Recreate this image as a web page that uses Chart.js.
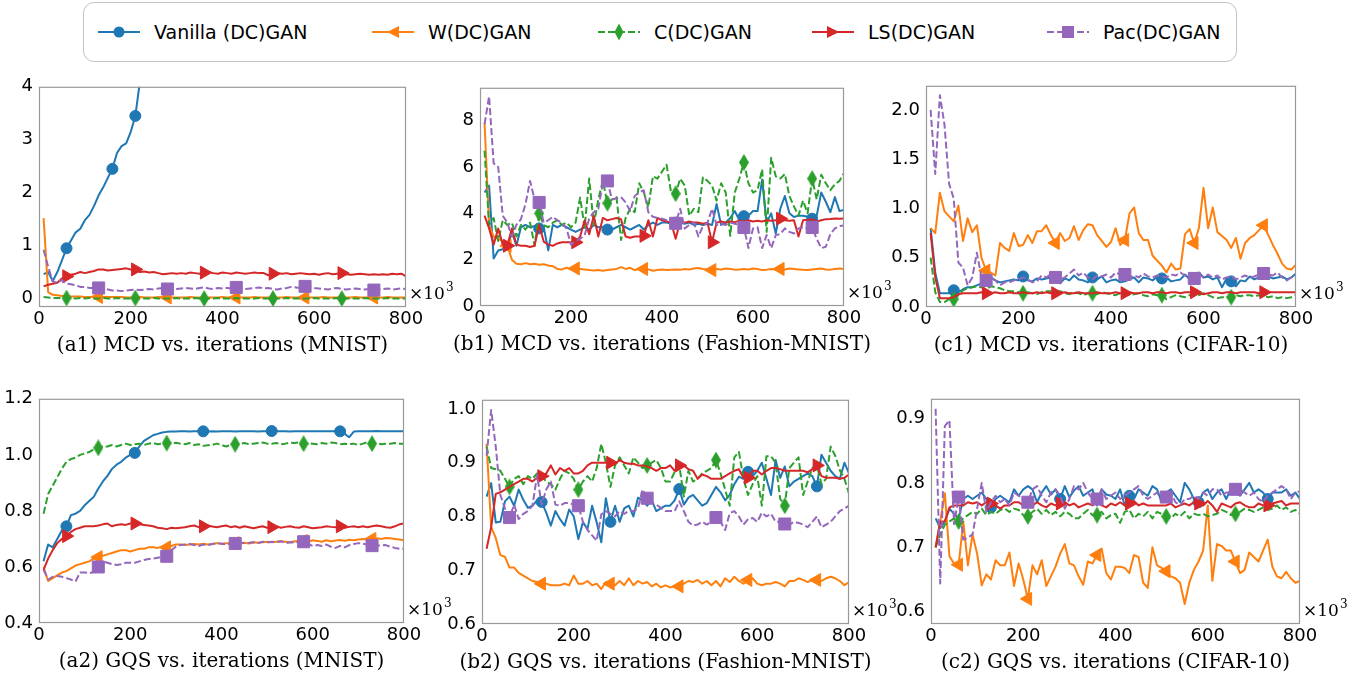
<!DOCTYPE html>
<html>
<head>
<meta charset="utf-8">
<title>GAN metrics vs. iterations</title>
<script src="https://cdn.jsdelivr.net/npm/chart.js@4.4.1/dist/chart.umd.min.js"></script>
<style>
    body { margin: 0; background: #fff; width: 1361px; height: 674px; position: relative; overflow: hidden; font-family: "DejaVu Sans", sans-serif; }
    #legend { position: absolute; left: 83px; top: 2px; width: 1152px; height: 58px; border: 1px solid #c4c4c4; border-radius: 11px; }
    .item { position: absolute; top: 0; height: 58px; display: flex; align-items: center; font-size: 19px; color: #000; white-space: nowrap; }
    .item svg { margin-right: 14px; }
    canvas { position: absolute; }
</style>
</head>
<body>
<div id="legend"></div>
<script>
// --- data ---
const seriesNames = ["Vanilla (DC)GAN", "W(DC)GAN", "C(DC)GAN", "LS(DC)GAN", "Pac(DC)GAN"];
const titles = [
    "(a1) MCD vs. iterations (MNIST)",
    "(b1) MCD vs. iterations (Fashion-MNIST)",
    "(c1) MCD vs. iterations (CIFAR-10)",
    "(a2) GQS vs. iterations (MNIST)",
    "(b2) GQS vs. iterations (Fashion-MNIST)",
    "(c2) GQS vs. iterations (CIFAR-10)"
];

// iterations, in thousands
const iters = [10,20,30,40,50,60,70,80,90,100,110,120,130,140,150,160,170,180,190,200,
    210,220,230,240,250,260,270,280,290,300,310,320,330,340,350,360,370,380,390,400,
    410,420,430,440,450,460,470,480,490,500,510,520,530,540,550,560,570,580,590,600,
    610,620,630,640,650,660,670,680,690,700,710,720,730,740,750,760,770,780,790,800];
const xTicks = [0, 200, 400, 600, 800];

// (a1) MCD, MNIST
const a1Vanilla = [0.46,0.5,0.33,0.5,0.72,0.95,1.1,1.25,1.32,1.48, 1.58,1.75,1.95,2.1,2.28,2.45,2.75,2.88,2.93,3.15,
    3.45,4.1,4.8,5.3,5.9,6.4,6.8,7.3,7.7,8.2, 8.6,9.0,9.5,9.9,10.3,10.6,11.0,11.4,11.7,12.1,
    12.4,12.8,13.1,13.4,13.8,14.1,14.3,14.6,14.9,15.2, 15.4,15.7,15.9,16.2,16.4,16.6,16.9,17.1,17.3,17.5,
    17.7,17.9,18.1,18.2,18.4,18.6,18.7,18.9,19.0,19.2, 19.3,19.4,19.6,19.7,19.8,19.9,20.0,20.1,20.2,20.3];
const a1W = [1.52,0.12,0.07,0.06,0.05,0.05,0.04,0.04,0.04,0.03, 0.03,0.03,0.03,0.03,0.03,0.03,0.03,0.03,0.02,0.02,
    0.02,0.03,0.02,0.02,0.02,0.03,0.02,0.02,0.02,0.02, 0.02,0.02,0.03,0.02,0.02,0.02,0.02,0.02,0.02,0.03,
    0.02,0.02,0.02,0.02,0.02,0.02,0.03,0.02,0.02,0.02, 0.02,0.02,0.02,0.03,0.02,0.02,0.02,0.02,0.02,0.02,
    0.02,0.03,0.02,0.02,0.02,0.02,0.02,0.02,0.03,0.02, 0.02,0.02,0.02,0.02,0.02,0.03,0.02,0.02,0.02,0.02];
const a1C = [0.03,0.02,0.01,0.01,0.01,0.01,0.01,0.0,0.01,0.0, 0.01,0.0,0.0,0.01,0.0,0.0,0.01,0.0,0.0,0.0,
    0.01,0.0,0.0,0.0,0.01,0.0,0.0,0.0,0.0,0.01, 0.0,0.0,0.0,0.01,0.0,0.0,0.0,0.0,0.01,0.0,
    0.0,0.0,0.01,0.0,0.0,0.0,0.0,0.01,0.0,0.0, 0.0,0.0,0.0,0.01,0.0,0.0,0.0,0.0,0.0,0.01,
    0.0,0.0,0.0,0.0,0.01,0.0,0.0,0.0,0.0,0.0, 0.01,0.0,0.0,0.0,0.0,0.01,0.0,0.0,0.0,0.0];
const a1LS = [0.23,0.26,0.28,0.3,0.38,0.42,0.45,0.47,0.5,0.48, 0.5,0.52,0.55,0.55,0.53,0.54,0.55,0.56,0.57,0.55,
    0.55,0.5,0.51,0.49,0.5,0.48,0.46,0.47,0.48,0.47, 0.48,0.47,0.49,0.48,0.47,0.49,0.5,0.48,0.47,0.49,
    0.48,0.47,0.49,0.48,0.47,0.48,0.49,0.48,0.48,0.44, 0.47,0.48,0.47,0.48,0.46,0.47,0.48,0.47,0.46,0.47,
    0.45,0.47,0.48,0.46,0.47,0.48,0.46,0.45,0.46,0.47, 0.46,0.45,0.46,0.45,0.46,0.45,0.47,0.46,0.47,0.42];
const a1Pac = [0.92,0.6,0.32,0.3,0.35,0.28,0.27,0.25,0.22,0.22, 0.2,0.2,0.2,0.19,0.17,0.15,0.15,0.14,0.15,0.16,
    0.17,0.16,0.17,0.18,0.17,0.19,0.2,0.18,0.17,0.18, 0.19,0.2,0.19,0.18,0.2,0.21,0.19,0.18,0.2,0.19,
    0.2,0.19,0.21,0.2,0.18,0.19,0.2,0.21,0.19,0.2, 0.18,0.17,0.19,0.2,0.22,0.21,0.2,0.23,0.22,0.2,
    0.19,0.18,0.17,0.19,0.2,0.18,0.17,0.18,0.19,0.18, 0.17,0.18,0.16,0.17,0.18,0.19,0.17,0.18,0.19,0.18];
const a1Marks = [[60,160,210],[130,280,430,580,730],[60,210,360,510,660],[60,210,360,510,660],[130,280,430,580,730]];
const a1Ticks = [0, 1, 2, 3, 4];

// (b1) MCD, Fashion-MNIST
const b1Vanilla = [4.9,5.2,2.05,2.4,2.45,2.5,3.2,2.6,3.4,3.5, 3.4,3.45,3.35,3.4,2.4,3.5,3.4,3.5,3.4,3.3,
    3.2,3.3,3.4,3.3,3.5,3.4,3.4,3.3,3.3,3.4, 3.5,3.4,3.3,3.4,3.5,3.3,3.5,3.6,3.5,3.6,
    3.6,3.55,3.6,3.6,3.55,3.6,3.5,3.55,3.5,3.55, 3.5,4.4,3.5,3.6,3.8,4.1,3.7,3.88,3.9,4.1,
    4.1,5.46,3.6,4.0,3.13,4.2,4.75,4.0,3.84,3.9, 3.9,3.85,3.77,3.9,4.9,4.5,4.05,4.7,4.1,4.15];
const b1W = [7.9,3.5,3.0,2.9,2.8,2.6,2.0,1.82,1.8,1.85, 1.8,1.82,1.78,1.8,1.75,1.72,1.6,1.58,1.65,1.58,
    1.62,1.6,1.58,1.55,1.53,1.55,1.52,1.55,1.58,1.6, 1.68,1.6,1.65,1.55,1.62,1.6,1.58,1.52,1.55,1.58,
    1.55,1.57,1.58,1.56,1.6,1.58,1.62,1.64,1.6,1.58, 1.55,1.6,1.58,1.62,1.6,1.57,1.58,1.6,1.58,1.62,
    1.6,1.55,1.57,1.6,1.58,1.6,1.58,1.62,1.6,1.58, 1.56,1.55,1.58,1.6,1.62,1.58,1.57,1.6,1.62,1.6];
const b1C = [6.7,3.5,3.8,2.8,3.7,3.5,3.6,3.0,3.5,3.3, 3.6,2.6,4.0,3.5,3.4,3.6,3.7,3.5,3.6,3.4,
    3.6,4.68,3.4,5.5,3.5,4.6,5.4,4.44,4.6,4.7, 2.85,3.8,4.2,4.05,5.3,4.9,4.26,5.6,5.5,5.8,
    6.1,4.9,4.85,5.5,5.2,3.9,4.2,4.05,5.55,5.4, 5.2,4.55,5.3,4.9,3.03,4.9,5.5,6.2,5.3,4.9,
    5.0,5.9,3.2,6.4,5.6,5.5,5.7,4.75,4.3,3.9, 4.55,4.0,5.5,4.6,5.67,5.3,5.0,5.25,5.4,5.74];
const b1LS = [3.9,3.35,2.65,3.35,2.65,2.6,3.35,2.65,2.6,2.6, 2.55,2.6,3.5,2.78,2.65,2.6,2.7,2.75,2.75,2.75,
    2.75,3.0,3.7,3.1,3.9,3.0,3.8,3.7,3.75,3.8, 3.75,3.0,2.95,3.0,3.0,3.03,3.7,3.0,3.8,3.7,
    3.65,3.6,2.9,3.65,3.6,3.65,3.6,3.6,3.55,3.6, 2.75,3.6,3.65,3.6,3.65,3.62,3.68,3.65,3.7,3.65,
    3.68,3.65,3.7,3.68,3.7,3.77,3.7,3.68,3.7,3.0, 3.7,3.72,3.75,3.65,3.7,3.75,3.76,3.78,3.77,3.78];
const b1Pac = [7.85,9.05,6.16,6.0,3.9,3.6,3.0,3.5,3.75,4.4, 5.4,4.6,4.47,3.6,3.7,3.85,3.7,3.6,3.35,2.65,
    2.8,2.9,3.06,3.77,4.05,4.2,5.3,5.4,4.6,4.65, 4.7,4.47,4.1,4.75,4.9,5.0,4.05,3.85,3.8,3.77,
    3.7,3.65,3.57,4.2,3.35,3.5,3.6,3.0,3.45,3.6, 4.2,3.5,3.55,3.5,3.6,3.55,3.5,3.39,2.5,3.35,
    3.4,2.5,3.06,2.5,3.06,3.1,3.35,3.2,3.13,3.35, 3.4,3.35,3.39,2.9,2.5,2.56,3.1,3.35,3.45,3.48];
const b1Marks = [[130,280,430,580,730],[60,210,360,510,660],[130,280,430,580,730],[60,210,360,510,660],[130,280,430,580,730]];
const b1Ticks = [0, 2, 4, 6, 8];

// (c1) MCD, CIFAR-10
const c1Vanilla = [0.8,0.35,0.14,0.14,0.14,0.17,0.15,0.18,0.2,0.2, 0.22,0.24,0.25,0.3,0.27,0.25,0.26,0.27,0.28,0.27,
    0.31,0.27,0.26,0.29,0.28,0.29,0.3,0.28,0.24,0.29, 0.27,0.32,0.28,0.27,0.25,0.3,0.28,0.31,0.25,0.27,
    0.28,0.25,0.26,0.28,0.3,0.25,0.3,0.29,0.27,0.31, 0.29,0.3,0.26,0.27,0.28,0.33,0.28,0.3,0.35,0.3,
    0.31,0.28,0.3,0.2,0.29,0.26,0.21,0.27,0.26,0.31, 0.28,0.3,0.3,0.31,0.29,0.3,0.31,0.28,0.3,0.34];
const c1W = [0.8,0.75,1.16,0.97,0.92,0.87,1.03,0.67,0.9,0.76, 0.83,0.5,0.37,0.35,0.32,0.65,0.6,0.57,0.75,0.62,
    0.63,0.73,0.65,0.77,0.77,0.83,0.73,0.65,0.75,0.67, 0.7,0.82,0.68,0.78,0.84,0.83,0.73,0.67,0.61,0.66,
    0.8,0.63,0.68,0.95,1.01,0.75,0.68,0.68,0.52,0.47, 0.42,0.35,0.44,0.38,0.39,0.74,0.79,0.65,0.8,1.21,
    0.8,1.01,0.76,0.72,0.68,0.6,0.7,0.49,0.65,0.7, 0.73,0.78,0.83,0.73,0.63,0.54,0.44,0.39,0.38,0.43];
const c1C = [0.5,0.15,0.05,0.05,0.08,0.08,0.12,0.17,0.19,0.2, 0.21,0.2,0.18,0.21,0.2,0.19,0.17,0.16,0.16,0.15,
    0.14,0.15,0.14,0.13,0.15,0.16,0.16,0.15,0.16,0.14, 0.13,0.15,0.14,0.12,0.14,0.14,0.13,0.15,0.14,0.13,
    0.12,0.14,0.13,0.12,0.13,0.14,0.12,0.11,0.13,0.12, 0.12,0.08,0.1,0.12,0.11,0.1,0.12,0.13,0.12,0.14,
    0.12,0.1,0.09,0.1,0.1,0.1,0.12,0.11,0.12,0.12, 0.11,0.12,0.11,0.1,0.11,0.09,0.1,0.09,0.1,0.12];
const c1LS = [0.75,0.3,0.09,0.09,0.09,0.1,0.13,0.14,0.14,0.14, 0.14,0.15,0.14,0.14,0.15,0.14,0.14,0.15,0.14,0.14,
    0.15,0.14,0.14,0.15,0.14,0.15,0.14,0.14,0.14,0.15, 0.14,0.14,0.15,0.14,0.14,0.14,0.15,0.14,0.14,0.14,
    0.15,0.14,0.14,0.15,0.14,0.14,0.15,0.15,0.14,0.15, 0.15,0.14,0.15,0.15,0.14,0.15,0.15,0.15,0.14,0.13,
    0.14,0.15,0.15,0.14,0.15,0.15,0.14,0.15,0.15,0.15, 0.15,0.14,0.15,0.15,0.15,0.15,0.15,0.15,0.15,0.15];
const c1Pac = [2.0,1.35,2.15,1.85,1.25,1.1,0.45,0.4,0.22,0.3, 0.55,0.3,0.27,0.3,0.27,0.22,0.25,0.25,0.27,0.28,
    0.3,0.28,0.25,0.26,0.32,0.3,0.33,0.3,0.28,0.3, 0.34,0.38,0.32,0.35,0.3,0.28,0.32,0.31,0.33,0.3,
    0.35,0.33,0.33,0.3,0.32,0.3,0.34,0.31,0.3,0.32, 0.31,0.3,0.33,0.32,0.35,0.32,0.3,0.29,0.33,0.3,
    0.33,0.3,0.32,0.28,0.3,0.31,0.28,0.3,0.32,0.3, 0.31,0.33,0.34,0.33,0.32,0.35,0.3,0.27,0.3,0.3];
const c1Marks = [[60,210,360,510,660],[130,280,430,580,730],[60,210,360,510,660],[130,280,430,580,730],[130,280,430,580,730]];
const c1Ticks = [0, 0.5, 1.0, 1.5, 2.0];

// (a2) GQS, MNIST
const a2Vanilla = [0.62,0.68,0.67,0.7,0.73,0.745,0.785,0.79,0.8,0.82, 0.835,0.85,0.88,0.905,0.925,0.95,0.965,0.975,0.99,1.0,
    1.007,1.03,1.05,1.06,1.07,1.075,1.08,1.082,1.083,1.083, 1.084,1.084,1.083,1.084,1.084,1.084,1.083,1.084,1.083,1.084,
    1.084,1.084,1.083,1.084,1.084,1.084,1.084,1.083,1.084,1.084, 1.085,1.084,1.084,1.084,1.083,1.084,1.084,1.084,1.084,1.084,
    1.084,1.084,1.084,1.084,1.084,1.084,1.075,1.063,1.083,1.084, 1.084,1.084,1.084,1.085,1.084,1.084,1.084,1.084,1.084,1.084];
const a2W = [0.6,0.55,0.56,0.57,0.58,0.585,0.595,0.605,0.61,0.615, 0.62,0.63,0.635,0.64,0.645,0.65,0.655,0.66,0.66,0.655,
    0.66,0.665,0.665,0.67,0.67,0.668,0.672,0.67,0.675,0.68, 0.68,0.678,0.68,0.682,0.68,0.683,0.68,0.682,0.685,0.683,
    0.685,0.682,0.685,0.683,0.686,0.684,0.688,0.686,0.688,0.69, 0.688,0.69,0.692,0.69,0.688,0.692,0.69,0.693,0.69,0.695,
    0.693,0.69,0.695,0.692,0.694,0.696,0.693,0.697,0.695,0.698, 0.7,0.698,0.7,0.702,0.7,0.703,0.702,0.7,0.698,0.695];
const a2C = [0.79,0.86,0.89,0.92,0.95,0.975,0.985,0.99,1.0,1.005, 1.01,1.02,1.025,1.03,1.03,1.035,1.03,1.035,1.04,1.035,
    1.038,1.04,1.035,1.04,1.042,1.038,1.04,1.042,1.04,1.043, 1.04,1.038,1.042,1.035,1.038,1.032,1.034,1.036,1.04,1.035,
    1.03,1.035,1.038,1.04,1.042,1.038,1.04,1.042,1.044,1.04, 1.04,1.042,1.038,1.04,1.044,1.042,1.045,1.04,1.042,1.04,
    1.038,1.042,1.04,1.044,1.042,1.038,1.04,1.038,1.04,1.035, 1.04,1.045,1.04,1.042,1.038,1.04,1.04,1.042,1.04,1.04];
const a2LS = [0.59,0.63,0.66,0.685,0.7,0.71,0.725,0.735,0.74,0.745, 0.745,0.745,0.748,0.752,0.755,0.745,0.75,0.752,0.75,0.755,
    0.755,0.752,0.75,0.748,0.745,0.74,0.738,0.735,0.74,0.738, 0.74,0.742,0.745,0.748,0.742,0.745,0.748,0.744,0.742,0.745,
    0.748,0.742,0.745,0.74,0.745,0.742,0.738,0.742,0.745,0.74, 0.742,0.745,0.74,0.743,0.745,0.742,0.74,0.745,0.742,0.738,
    0.74,0.742,0.745,0.743,0.742,0.745,0.74,0.743,0.745,0.742, 0.745,0.742,0.745,0.748,0.745,0.742,0.74,0.745,0.752,0.755];
const a2Pac = [0.59,0.555,0.565,0.568,0.565,0.56,0.555,0.548,0.58,0.58, 0.578,0.582,0.6,0.62,0.615,0.61,0.607,0.61,0.615,0.615,
    0.615,0.62,0.625,0.628,0.63,0.633,0.635,0.638,0.66,0.672, 0.678,0.68,0.682,0.678,0.675,0.68,0.678,0.682,0.685,0.683,
    0.68,0.685,0.684,0.688,0.685,0.686,0.688,0.685,0.69,0.687, 0.69,0.688,0.692,0.685,0.688,0.687,0.69,0.69,0.682,0.675,
    0.678,0.675,0.68,0.672,0.668,0.675,0.67,0.678,0.682,0.685, 0.683,0.68,0.676,0.675,0.677,0.678,0.672,0.668,0.665,0.665];
const a2Marks = [[60,210,360,510,660],[130,280,430,580,730],[130,280,430,580,730],[60,210,360,510,660],[130,280,430,580,730]];
const a2Ticks = [0.4, 0.6, 0.8, 1.0, 1.2];

// (b2) GQS, Fashion-MNIST
const b2Vanilla = [0.837,0.862,0.789,0.79,0.828,0.837,0.82,0.85,0.831,0.816, 0.82,0.83,0.827,0.807,0.783,0.81,0.795,0.783,0.813,0.8,
    0.758,0.789,0.777,0.82,0.789,0.752,0.834,0.79,0.82,0.79, 0.815,0.82,0.8,0.835,0.83,0.82,0.83,0.81,0.815,0.82,
    0.82,0.83,0.851,0.822,0.835,0.84,0.83,0.82,0.825,0.84, 0.855,0.845,0.83,0.84,0.86,0.874,0.87,0.883,0.875,0.885,
    0.9,0.87,0.84,0.905,0.872,0.893,0.856,0.865,0.87,0.875, 0.88,0.875,0.856,0.915,0.9,0.885,0.875,0.87,0.9,0.88];
const b2W = [0.935,0.78,0.76,0.728,0.725,0.705,0.705,0.695,0.69,0.685, 0.68,0.678,0.675,0.675,0.672,0.672,0.672,0.675,0.672,0.69,
    0.675,0.675,0.68,0.672,0.675,0.665,0.678,0.675,0.672,0.68, 0.672,0.685,0.672,0.68,0.675,0.678,0.67,0.675,0.668,0.672,
    0.668,0.67,0.67,0.675,0.68,0.678,0.682,0.675,0.68,0.672, 0.68,0.67,0.685,0.678,0.688,0.68,0.675,0.682,0.685,0.675,
    0.672,0.675,0.675,0.678,0.675,0.67,0.68,0.68,0.685,0.682, 0.678,0.682,0.682,0.68,0.685,0.688,0.685,0.68,0.672,0.678];
const b2C = [0.93,0.89,0.888,0.885,0.87,0.855,0.87,0.875,0.86,0.875, 0.87,0.88,0.875,0.865,0.86,0.85,0.87,0.885,0.88,0.87,
    0.85,0.865,0.875,0.865,0.89,0.935,0.9,0.855,0.895,0.91, 0.895,0.88,0.91,0.9,0.89,0.895,0.9,0.905,0.89,0.865,
    0.865,0.883,0.895,0.837,0.885,0.865,0.87,0.88,0.885,0.89, 0.905,0.88,0.85,0.82,0.91,0.92,0.87,0.84,0.86,0.875,
    0.82,0.912,0.912,0.9,0.833,0.82,0.89,0.9,0.91,0.84, 0.865,0.89,0.896,0.86,0.87,0.93,0.913,0.886,0.87,0.843];
const b2LS = [0.74,0.78,0.842,0.845,0.85,0.855,0.86,0.865,0.87,0.87, 0.865,0.872,0.875,0.88,0.895,0.878,0.89,0.885,0.89,0.88,
    0.88,0.885,0.895,0.9,0.9,0.9,0.9,0.9,0.898,0.905, 0.9,0.898,0.898,0.895,0.895,0.893,0.89,0.885,0.89,0.89,
    0.895,0.885,0.895,0.895,0.888,0.885,0.87,0.878,0.875,0.87, 0.87,0.87,0.875,0.88,0.885,0.888,0.872,0.872,0.885,0.885,
    0.878,0.885,0.89,0.89,0.888,0.885,0.885,0.885,0.885,0.885, 0.882,0.888,0.895,0.875,0.872,0.872,0.872,0.87,0.872,0.878];
const b2Pac = [0.913,0.998,0.93,0.84,0.815,0.798,0.822,0.795,0.805,0.81, 0.82,0.877,0.822,0.85,0.865,0.822,0.82,0.825,0.825,0.822,
    0.82,0.79,0.775,0.765,0.755,0.804,0.81,0.805,0.8,0.81, 0.805,0.81,0.81,0.815,0.85,0.834,0.825,0.822,0.816,0.81,
    0.81,0.81,0.828,0.81,0.79,0.783,0.785,0.79,0.785,0.79, 0.798,0.79,0.775,0.806,0.81,0.8,0.785,0.795,0.797,0.79,
    0.807,0.8,0.805,0.79,0.79,0.786,0.785,0.79,0.788,0.785, 0.78,0.79,0.8,0.78,0.785,0.79,0.8,0.81,0.815,0.82];
const b2Marks = [[130,280,430,580,730],[130,280,430,580,730],[60,210,360,510,660],[130,280,430,580,730],[60,210,360,510,660]];
const b2Ticks = [0.6, 0.7, 0.8, 0.9, 1.0];

// (c2) GQS, CIFAR-10
const c2Vanilla = [0.745,0.73,0.74,0.76,0.752,0.745,0.775,0.78,0.775,0.78, 0.785,0.775,0.762,0.775,0.78,0.775,0.77,0.79,0.78,0.79,
    0.795,0.79,0.77,0.785,0.795,0.782,0.79,0.775,0.795,0.778, 0.788,0.795,0.78,0.785,0.79,0.765,0.79,0.782,0.78,0.775,
    0.79,0.765,0.78,0.775,0.79,0.785,0.78,0.795,0.79,0.77, 0.785,0.79,0.78,0.77,0.8,0.79,0.775,0.77,0.785,0.79,
    0.775,0.785,0.79,0.775,0.79,0.785,0.78,0.79,0.8,0.785, 0.79,0.785,0.775,0.785,0.785,0.785,0.79,0.78,0.785,0.775];
const c2W = [0.7,0.74,0.784,0.686,0.675,0.673,0.74,0.672,0.72,0.69, 0.641,0.658,0.65,0.68,0.672,0.672,0.692,0.64,0.675,0.65,
    0.62,0.672,0.658,0.68,0.64,0.655,0.67,0.69,0.705,0.675, 0.672,0.655,0.642,0.678,0.675,0.688,0.698,0.66,0.65,0.67,
    0.67,0.668,0.66,0.688,0.685,0.645,0.637,0.7,0.672,0.668, 0.663,0.655,0.652,0.645,0.612,0.645,0.665,0.678,0.695,0.765,
    0.648,0.705,0.702,0.695,0.695,0.678,0.66,0.665,0.692,0.685, 0.678,0.695,0.712,0.67,0.655,0.652,0.662,0.652,0.645,0.648];
const c2C = [0.7,0.72,0.735,0.74,0.745,0.74,0.745,0.75,0.755,0.752, 0.76,0.75,0.755,0.752,0.758,0.76,0.755,0.76,0.758,0.75,
    0.748,0.755,0.76,0.752,0.758,0.75,0.755,0.748,0.755,0.752, 0.745,0.745,0.752,0.758,0.75,0.75,0.755,0.745,0.75,0.752,
    0.738,0.755,0.758,0.745,0.752,0.748,0.755,0.745,0.755,0.752, 0.748,0.745,0.752,0.748,0.755,0.745,0.752,0.75,0.752,0.748,
    0.75,0.752,0.758,0.755,0.75,0.752,0.755,0.76,0.758,0.755, 0.758,0.762,0.758,0.76,0.765,0.758,0.762,0.755,0.758,0.752];
const c2LS = [0.7,0.74,0.74,0.762,0.765,0.765,0.765,0.77,0.768,0.77, 0.765,0.77,0.768,0.765,0.76,0.765,0.765,0.77,0.77,0.765,
    0.768,0.765,0.77,0.765,0.762,0.768,0.765,0.768,0.77,0.765, 0.768,0.762,0.765,0.768,0.765,0.77,0.765,0.762,0.768,0.765,
    0.77,0.765,0.768,0.772,0.765,0.768,0.765,0.765,0.765,0.765, 0.765,0.768,0.762,0.765,0.768,0.765,0.77,0.768,0.765,0.772,
    0.765,0.755,0.768,0.765,0.762,0.768,0.77,0.765,0.762,0.762, 0.768,0.765,0.765,0.768,0.77,0.772,0.765,0.768,0.768,0.768];
const c2Pac = [0.915,0.644,0.888,0.897,0.736,0.778,0.712,0.715,0.72,0.76, 0.8,0.755,0.77,0.78,0.77,0.775,0.765,0.785,0.78,0.775,
    0.77,0.79,0.795,0.78,0.77,0.785,0.79,0.78,0.76,0.775, 0.795,0.79,0.8,0.785,0.775,0.775,0.79,0.775,0.78,0.785,
    0.775,0.78,0.785,0.79,0.795,0.78,0.775,0.78,0.785,0.775, 0.778,0.785,0.77,0.765,0.775,0.775,0.78,0.775,0.785,0.78,
    0.79,0.79,0.78,0.785,0.785,0.79,0.79,0.785,0.78,0.785, 0.775,0.77,0.78,0.785,0.79,0.795,0.79,0.775,0.785,0.787];
const c2Marks = [[130,280,430,580,730],[60,210,360,510,660],[60,210,360,510,660],[130,280,430,580,730],[60,210,360,510,660]];
const c2Ticks = [0.6, 0.7, 0.8, 0.9];

// --- style ---
const colors = ["#1f77b4", "#ff7f0e", "#2ca02c", "#d62728", "#9467bd"];
const dashes = [[], [], [7, 3], [], [7, 3]];
const markerSize = [5.5, 7.5, 8, 7.5, 8.5];
const markerRot = [0, -90, 0, 90, 0];

function diamondMarker(color) {
    const c = document.createElement("canvas");
    c.width = 10; c.height = 17;
    const g = c.getContext("2d");
    g.fillStyle = color;
    g.beginPath();
    g.moveTo(5, 0); g.lineTo(10, 8.5); g.lineTo(5, 17); g.lineTo(0, 8.5);
    g.closePath();
    g.fill();
    return c;
}
const markerStyle = ["circle", "triangle", diamondMarker(colors[2]), "triangle", "rect"];

Chart.defaults.font.family = "DejaVu Sans";
Chart.defaults.color = "#000";

// --- legend ---
const legendLeft = [14, 288, 514, 728, 963];
const legendIcons = [
    '<circle cx="21" cy="10" r="5.5"/>',
    '<polygon points="15,10 27,4 27,16"/>',
    '<polygon points="21,1.5 25.5,10 21,18.5 16.5,10"/>',
    '<polygon points="27,10 15,4 15,16"/>',
    '<rect x="15" y="4" width="12" height="12"/>'
];
const legendEl = document.getElementById("legend");
seriesNames.forEach((name, i) => {
    const item = document.createElement("div");
    item.className = "item";
    item.style.left = legendLeft[i] + "px";
    const dash = dashes[i].length ? ' stroke-dasharray="7 3"' : "";
    item.innerHTML = `<svg width="42" height="20"><line x1="0" y1="10" x2="42" y2="10" stroke="${colors[i]}" stroke-width="2"${dash}/>` +
        `<g fill="${colors[i]}">${legendIcons[i]}</g></svg><span>${name}</span>`;
    legendEl.appendChild(item);
});

// --- panels ---
const panels = [
    { title: titles[0], series: [a1Vanilla, a1W, a1C, a1LS, a1Pac], marks: a1Marks, ticks: a1Ticks, min: -0.16, max: 4, dec: 0, box: { l: 39, t: 82, r: 406, b: 307 } },
    { title: titles[1], series: [b1Vanilla, b1W, b1C, b1LS, b1Pac], marks: b1Marks, ticks: b1Ticks, min: 0, max: 9.42, dec: 0, box: { l: 480, t: 83, r: 844, b: 306 } },
    { title: titles[2], series: [c1Vanilla, c1W, c1C, c1LS, c1Pac], marks: c1Marks, ticks: c1Ticks, min: 0, max: 2.245, dec: 1, box: { l: 926, t: 81, r: 1296, b: 307 } },
    { title: titles[3], series: [a2Vanilla, a2W, a2C, a2LS, a2Pac], marks: a2Marks, ticks: a2Ticks, min: 0.4, max: 1.2, dec: 1, box: { l: 39, t: 394, r: 404, b: 623 } },
    { title: titles[4], series: [b2Vanilla, b2W, b2C, b2LS, b2Pac], marks: b2Marks, ticks: b2Ticks, min: 0.6, max: 1.017, dec: 1, box: { l: 482, t: 395, r: 849, b: 624 } },
    { title: titles[5], series: [c2Vanilla, c2W, c2C, c2LS, c2Pac], marks: c2Marks, ticks: c2Ticks, min: 0.581, max: 0.9305, dec: 1, box: { l: 931, t: 394, r: 1300, b: 624 } }
];

const Y_W = 44, PAD_T = 12, PAD_R = 50, X_H = 25, PAD_B = 28;

// frame round the axes, the "x10^3" offset text and the caption under each panel
const framePlugin = {
    id: "frame",
    afterDatasetsDraw(chart, args, opts) {
        const { ctx, chartArea: a } = chart;
        ctx.save();
        ctx.strokeStyle = "#999";
        ctx.lineWidth = 1.2;
        ctx.strokeRect(a.left + 0.5, a.top + 0.5, a.right - a.left - 1, a.bottom - a.top - 1);
        ctx.fillStyle = "#000";
        ctx.textBaseline = "alphabetic";
        ctx.font = "17px 'DejaVu Serif'";
        const x0 = a.right + 3, y0 = a.bottom - 8;
        ctx.fillText("\u00d710", x0, y0);
        const w = ctx.measureText("\u00d710").width;
        ctx.font = "12px 'DejaVu Serif'";
        ctx.fillText("3", x0 + w + 1, y0 - 8);
        // caption
        ctx.font = "20px 'DejaVu Serif'";
        ctx.textAlign = "center";
        ctx.textBaseline = "middle";
        ctx.fillText(opts.title, (a.left + a.right) / 2, a.bottom + 39);
        ctx.restore();
    }
};

panels.forEach(p => {
    const bx = p.box;
    const canvas = document.createElement("canvas");
    canvas.width = (bx.r - bx.l) + Y_W + PAD_R;
    canvas.height = (bx.b - bx.t) + PAD_T + X_H + PAD_B;
    canvas.style.left = (bx.l - Y_W) + "px";
    canvas.style.top = (bx.t - PAD_T) + "px";
    document.body.appendChild(canvas);

    const datasets = p.series.map((ys, i) => ({
        label: seriesNames[i],
        data: iters.map((x, k) => ({ x: x, y: ys[k] })),
        borderColor: colors[i],
        backgroundColor: colors[i],
        borderWidth: 2,
        borderDash: dashes[i],
        borderJoinStyle: "round",
        tension: 0,
        fill: false,
        pointStyle: markerStyle[i],
        pointRotation: markerRot[i],
        pointRadius: iters.map(x => p.marks[i].includes(x) ? markerSize[i] : 0),
        pointBorderWidth: 1,
        pointBorderColor: colors[i],
        pointBackgroundColor: colors[i],
        order: 4 - i
    }));

    new Chart(canvas, {
        type: "line",
        data: { datasets },
        options: {
            responsive: false,
            animation: false,
            events: [],
            layout: { padding: { top: PAD_T, right: PAD_R, bottom: PAD_B, left: 0 } },
            plugins: {
                legend: { display: false },
                tooltip: { enabled: false },
                frame: { title: p.title }
            },
            scales: {
                x: {
                    type: "linear",
                    min: 0,
                    max: 800,
                    grid: { display: false, drawTicks: false },
                    border: { display: false },
                    ticks: { color: "#000", font: { size: 18 }, padding: 2, autoSkip: false, maxRotation: 0 },
                    afterBuildTicks: s => { s.ticks = xTicks.map(v => ({ value: v })); },
                    afterFit: s => { s.height = X_H; }
                },
                y: {
                    min: p.min,
                    max: p.max,
                    grid: { display: false, drawTicks: false },
                    border: { display: false },
                    ticks: { color: "#000", font: { size: 18 }, padding: 6, autoSkip: false, callback: v => v.toFixed(p.dec) },
                    afterBuildTicks: s => { s.ticks = p.ticks.map(v => ({ value: v })); },
                    afterFit: s => { s.width = Y_W; }
                }
            }
        },
        plugins: [framePlugin]
    });
});
</script>
</body>
</html>
